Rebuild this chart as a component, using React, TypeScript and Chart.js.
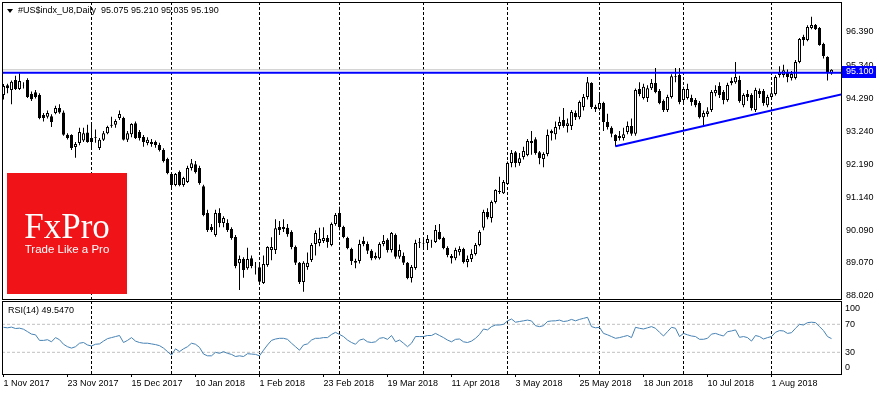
import React, { useEffect, useRef } from 'react';
import { Chart, registerables } from 'chart.js';
Chart.register(...registerables);

// ---------- DATA ----------
const symbolLabel = '#US$indx_U8,Daily';
const opens = [94.39,94.70,94.55,94.87,94.58,94.69,94.87,94.42,94.48,94.39,
93.76,93.70,93.72,93.82,93.98,93.84,93.13,93.12,92.74,92.87,
92.95,93.20,93.03,93.05,92.71,92.97,93.18,93.42,93.45,93.66,
93.66,92.97,93.15,93.50,93.22,93.06,92.87,92.90,92.90,92.81,
92.65,92.36,91.89,91.54,91.95,91.54,91.63,92.08,92.20,92.08,
91.50,90.65,90.21,89.95,90.65,90.33,90.33,90.14,89.89,89.06,
89.19,88.90,89.22,88.95,88.93,88.43,89.00,89.48,89.48,90.21,
90.21,90.18,90.05,89.57,89.07,88.46,88.94,89.16,89.67,89.70,
89.76,89.86,89.64,90.30,90.65,90.21,89.86,89.51,89.07,89.13,
89.76,89.67,89.45,89.22,89.22,89.67,89.80,89.48,89.95,89.26,
89.29,89.07,88.59,88.91,89.70,89.70,89.70,89.76,89.73,90.05,
89.86,89.54,89.29,89.22,89.41,89.51,89.10,89.19,89.35,89.64,
90.18,90.68,90.49,91.00,91.35,91.28,91.57,92.24,92.58,92.24,
92.43,92.49,92.87,92.99,92.58,92.36,92.52,93.25,93.15,93.41,
93.60,93.41,93.41,93.82,93.69,94.01,94.33,94.77,94.01,93.95,
94.14,93.54,93.35,93.12,93.03,93.03,93.22,93.41,93.16,94.58,
94.30,94.30,94.61,94.77,94.52,94.20,93.92,94.33,94.99,95.03,
94.23,94.30,94.30,94.23,94.14,93.69,93.79,93.92,94.45,94.68,
94.49,94.23,94.77,94.80,94.87,94.07,94.42,94.39,93.92,94.52,
94.52,94.07,94.33,94.42,95.03,95.03,95.12,94.93,94.93,95.44,
96.23,96.14,96.52,96.61,96.52,96.01,95.60,95.075];
const highs = [94.74,94.75,94.85,95.00,95.08,94.80,94.92,94.50,94.55,94.45,
93.82,93.90,93.78,94.05,94.10,93.90,93.18,93.15,92.90,93.35,
93.35,93.45,93.45,93.30,93.03,93.25,93.42,93.70,93.62,93.90,
93.70,93.25,93.50,93.55,93.28,93.12,93.05,93.00,92.95,92.88,
92.70,92.40,91.95,91.92,92.00,91.80,92.15,92.36,92.30,92.15,
91.55,90.75,90.30,90.75,90.80,90.55,90.45,90.20,89.95,89.30,
89.25,89.55,89.30,89.10,89.00,89.30,89.60,89.88,90.45,90.40,
90.45,90.30,90.10,89.62,89.10,89.12,89.40,89.70,90.10,90.18,
90.20,89.95,90.35,90.65,90.85,90.25,89.90,89.55,89.20,89.80,
89.90,89.75,89.50,89.40,89.72,89.95,89.85,90.05,90.00,89.65,
89.40,89.10,89.00,89.80,89.86,89.85,89.95,89.80,90.27,90.30,
89.90,89.60,89.35,89.55,89.60,89.55,89.30,89.50,89.70,90.10,
90.75,90.80,91.05,91.40,91.80,91.70,92.28,92.65,92.62,92.55,
92.75,93.00,93.25,93.05,92.62,92.58,93.30,93.30,93.55,93.70,
93.98,93.65,93.92,93.90,94.22,94.42,94.96,94.80,94.08,94.48,
94.18,93.80,93.40,93.15,93.25,93.35,93.55,93.65,94.60,94.80,
94.75,94.70,94.90,95.25,94.58,94.25,94.40,95.05,95.25,95.25,
94.65,94.75,94.40,94.30,94.20,93.90,94.00,94.55,94.70,94.80,
94.55,94.78,94.95,95.44,95.00,94.45,94.55,94.45,94.62,94.60,
94.58,94.40,94.55,95.02,95.30,95.35,95.20,95.15,95.50,96.20,
96.30,96.60,96.87,96.64,96.55,96.05,95.62,95.21];
const lows = [94.25,94.45,94.10,94.55,94.55,94.60,94.30,94.20,94.28,93.62,
93.55,93.65,93.38,93.78,93.80,93.10,92.98,92.65,92.40,92.80,
92.90,92.88,92.65,92.88,92.65,92.93,93.15,93.35,93.35,93.60,
92.95,92.90,93.05,93.00,92.95,92.75,92.80,92.75,92.72,92.60,
92.25,91.88,91.38,91.50,91.50,91.48,91.60,92.00,91.90,91.55,
90.55,90.05,90.05,89.90,90.20,90.20,90.05,89.80,88.90,88.21,
88.60,88.85,88.90,88.70,88.40,88.40,88.95,89.15,89.35,89.95,
90.05,89.90,89.50,89.00,88.40,88.15,88.85,89.10,89.30,89.60,
89.70,89.55,89.60,90.25,90.10,89.85,89.50,89.00,88.90,89.05,
89.60,89.35,89.15,89.18,89.18,89.60,89.40,89.40,89.20,89.20,
89.00,88.55,88.45,88.85,89.54,89.55,89.48,89.55,89.70,89.80,
89.50,89.25,89.05,89.15,89.30,89.05,88.93,89.10,89.30,89.60,
90.10,90.45,90.35,90.95,91.25,91.25,91.55,92.10,92.10,92.15,
92.35,92.45,92.50,92.50,92.20,92.10,92.45,92.95,92.98,93.30,
93.35,93.20,93.28,93.60,93.62,93.90,94.25,93.95,93.85,93.90,
93.25,93.30,93.05,92.76,92.95,92.95,93.15,93.10,93.10,94.35,
94.25,94.17,94.55,94.45,94.10,93.85,93.85,94.28,94.80,94.10,
94.15,94.25,94.05,94.00,93.65,93.44,93.70,93.85,94.35,94.30,
94.10,94.18,94.70,94.75,94.15,94.00,94.20,93.90,93.85,94.30,
94.05,94.00,94.25,94.38,94.95,94.95,94.80,94.85,94.88,95.40,
95.95,96.10,96.48,96.45,95.95,95.55,94.85,95.035];
const closes = [94.68,94.61,94.81,94.58,94.84,94.70,94.33,94.26,94.33,93.66,
93.66,93.82,93.54,93.98,93.84,93.13,93.03,92.71,92.84,93.22,
93.18,92.90,92.90,93.03,92.97,93.18,93.38,93.45,93.57,93.79,
92.97,93.18,93.47,93.03,93.03,92.90,92.97,92.84,92.81,92.65,
92.30,91.92,91.54,91.89,91.54,91.76,92.08,92.23,91.95,91.60,
90.59,90.11,90.11,90.65,90.33,90.49,90.11,89.86,88.97,89.19,
88.84,89.19,88.97,88.93,88.47,89.03,89.57,89.57,90.17,90.11,
90.14,89.98,89.57,89.07,88.46,89.07,89.07,89.64,90.02,89.83,
89.86,89.73,90.30,90.59,90.21,89.89,89.54,89.13,89.13,89.67,
89.67,89.45,89.22,89.29,89.67,89.76,89.48,90.02,89.26,89.48,
89.07,88.59,88.94,89.70,89.72,89.68,89.83,89.77,90.11,89.83,
89.54,89.32,89.22,89.48,89.51,89.10,89.19,89.35,89.64,90.05,
90.68,90.52,91.00,91.38,91.32,91.63,92.24,92.55,92.24,92.39,
92.62,92.93,92.93,92.55,92.39,92.52,93.12,93.18,93.38,93.54,
93.41,93.50,93.85,93.69,94.17,94.33,94.80,94.01,93.95,94.14,
93.54,93.38,93.16,92.93,93.09,93.15,93.41,93.16,94.55,94.42,
94.65,94.61,94.77,94.49,94.14,93.92,94.33,94.99,94.96,94.17,
94.58,94.58,94.17,94.07,93.69,93.82,93.88,94.49,94.55,94.39,
94.23,94.71,94.84,94.96,94.20,94.39,94.33,93.98,94.55,94.42,
94.14,94.33,94.45,94.96,95.12,95.18,94.96,95.06,95.44,96.17,
96.14,96.55,96.61,96.48,95.98,95.63,95.12,95.19];
const rsiValues = [65.7,65,66,64,64.5,63,59.5,56,55,47,
47,48,45,51,48,41.5,38,36,38,43,
44,40.5,39,41.5,42,46,49.5,51,52.5,54,
44,47,51,46,44,43,43,42,41,39.5,
36,31,26,35,31,35,38,43,41.5,37,
27.5,25,25,30,28.5,31,28.5,27,24,25,
24,28,27.5,27,25,33,40.5,47,49,50,
50,48.5,43,38,33,40.5,42,47.5,50,50,
51,51,55.5,58.5,55.5,52.5,47.5,44,41.5,47.5,
49,45,44,45,50,51,48.5,54,45,47.5,
43,38,43,52.5,52.5,52.5,54,54,57,54,
51,47.5,45,48.5,49,45,44,46,50,55.5,
63.3,62,66.7,69,69,70,74.8,77.6,73,74,
75,76,74.8,68,66.7,68,74,74.8,75,76,
74,74.8,77,75,77,78.5,80,66.7,65,65.7,
57,55,52.5,50,51,52.5,54,51,65.7,64.3,
63.3,65,66.7,64.3,58.6,53.3,59.5,65.7,64.3,52.5,
57,55,53.3,52.5,48.6,48.6,50,56,57,55,
53.3,59.5,60.5,62,51.4,52.5,51,46,54,52.5,
49,51,52.5,58.6,61,60.5,57,58,64.3,70,
69,72.4,73,72.4,66.7,61,52.5,49.547];
const priceTicks = [96.39, 95.34, 94.29, 93.24, 92.19, 91.14, 90.09, 89.07, 88.02];
const rsiTicks = [100, 70, 30, 0];
const rsiLevels = [70, 30];
const dateLabels = ['1 Nov 2017','23 Nov 2017','15 Dec 2017','10 Jan 2018','1 Feb 2018','23 Feb 2018','19 Mar 2018','11 Apr 2018','3 May 2018','25 May 2018','18 Jun 2018','10 Jul 2018','1 Aug 2018'];
const dateLabelBars = [0,16,32,48,64,80,96,112,128,144,160,176,192];
const monthStartBars = [22,42,64,84,105,126,149,170,192];
const supportLevel = 95.1;
const trendBars = [153, 209.4];
const trendPrices = [92.77, 94.41];

// ---------- LAYOUT ----------
const xMin = -0.375;
const xMax = 209.375;
const priceMin = 87.924;
const priceMax = 97.341;
const rsiMin = -1;
const rsiMax = 103.3;
const FONT = '"Liberation Sans", Arial, sans-serif';
const last = closes.length - 1;

const monthGridPlugin = {
  id: 'monthGrid',
  beforeDatasetsDraw(chart: any) {
    const { ctx, chartArea, scales } = chart;
    ctx.save();
    ctx.strokeStyle = '#000';
    ctx.lineWidth = 1;
    ctx.setLineDash([3, 2]);
    for (const b of monthStartBars) {
      const x = Math.floor(scales.x.getPixelForValue(b)) + 0.5;
      ctx.beginPath();
      ctx.moveTo(x, chartArea.top);
      ctx.lineTo(x, chartArea.bottom);
      ctx.stroke();
    }
    ctx.restore();
  },
};

const framePlugin = {
  id: 'frame',
  afterDatasetsDraw(chart: any) {
    const { ctx, chartArea } = chart;
    ctx.save();
    ctx.strokeStyle = '#000';
    ctx.lineWidth = 1;
    ctx.strokeRect(chartArea.left + 0.5, chartArea.top + 0.5, chartArea.right - chartArea.left, chartArea.bottom - chartArea.top);
    ctx.restore();
  },
};

const priceTagPlugin = {
  id: 'priceTag',
  afterDraw(chart: any) {
    const { ctx, chartArea, scales } = chart;
    const y = Math.round(scales.y.getPixelForValue(supportLevel));
    ctx.save();
    ctx.fillStyle = '#0000ff';
    ctx.fillRect(chartArea.right + 1, y - 7, 34, 12);
    ctx.fillStyle = '#ffffff';
    ctx.font = `9px ${FONT}`;
    ctx.textBaseline = 'middle';
    ctx.textAlign = 'left';
    ctx.fillText(supportLevel.toFixed(3), chartArea.right + 5, y - 1);
    ctx.restore();
  },
};

const rsiLabelsPlugin = {
  id: 'rsiLabels',
  afterDraw(chart: any) {
    const { ctx, chartArea, scales } = chart;
    ctx.save();
    ctx.fillStyle = '#000';
    ctx.font = `9px ${FONT}`;
    ctx.textAlign = 'left';
    for (const v of rsiTicks) {
      const y = scales.y.getPixelForValue(v);
      ctx.textBaseline = v === 100 ? 'top' : v === 0 ? 'bottom' : 'middle';
      ctx.fillText(String(v), chartArea.right + 4, v === 100 ? y + 1 : v === 0 ? y - 1 : y);
    }
    ctx.restore();
  },
};

function mainConfig(): any {
  const wickData = lows.map((l, i) => ({ x: i, y: [l, highs[i]] }));
  const bodyData = opens.map((o, i) => ({ x: i, y: [o, closes[i]] }));
  const bodyColors = opens.map((o, i) => (closes[i] >= o ? '#ffffff' : '#000000'));
  return {
    type: 'bar',
    data: {
      datasets: [
        {
          type: 'line',
          data: [{ x: xMin, y: closes[last] }, { x: xMax, y: closes[last] }],
          borderColor: '#c0c0c0',
          borderWidth: 1,
          pointRadius: 0,
          order: 6,
        },
        {
          type: 'bar',
          data: wickData,
          backgroundColor: '#000000',
          barThickness: 1,
          grouped: false,
          inflateAmount: 0,
          order: 5,
        },
        {
          type: 'bar',
          data: bodyData,
          backgroundColor: bodyColors,
          borderColor: '#000000',
          borderWidth: 1,
          borderSkipped: false,
          barThickness: 3,
          grouped: false,
          inflateAmount: 0,
          order: 4,
        },
        {
          type: 'line',
          data: [{ x: xMin, y: supportLevel }, { x: xMax, y: supportLevel }],
          borderColor: '#0000ff',
          borderWidth: 2,
          pointRadius: 0,
          order: 1,
        },
        {
          type: 'line',
          data: trendBars.map((b, i) => ({ x: b, y: trendPrices[i] })),
          borderColor: '#0000ff',
          borderWidth: 2,
          pointRadius: 0,
          order: 1,
        },
      ],
    },
    options: {
      responsive: false,
      maintainAspectRatio: false,
      animation: false,
      events: [],
      layout: { padding: { left: 2, top: 2, right: 0, bottom: 1 } },
      plugins: { legend: { display: false }, tooltip: { enabled: false } },
      scales: {
        x: { type: 'linear', min: xMin, max: xMax, display: false, offset: false },
        y: {
          position: 'right',
          min: priceMin,
          max: priceMax,
          afterBuildTicks: (s: any) => { s.ticks = priceTicks.map((v) => ({ value: v })); },
          ticks: {
            callback: (v: any) => Number(v).toFixed(3),
            font: { family: FONT, size: 9 },
            color: '#000',
            padding: 5,
            autoSkip: false,
          },
          grid: { drawOnChartArea: false, drawTicks: false },
          border: { display: false },
          afterFit: (s: any) => { s.width = 39; s.paddingTop = 0; s.paddingBottom = 0; },
        },
      },
    },
    plugins: [monthGridPlugin, framePlugin, priceTagPlugin],
  };
}

function rsiConfig(): any {
  return {
    type: 'line',
    data: {
      datasets: [
        ...rsiLevels.map((lv) => ({
          data: [{ x: xMin, y: lv }, { x: xMax, y: lv }],
          borderColor: '#c0c0c0',
          borderWidth: 1,
          borderDash: [3, 2],
          pointRadius: 0,
          order: 3,
        })),
        {
          data: rsiValues.map((v, i) => ({ x: i, y: v })),
          borderColor: '#4682b4',
          borderWidth: 1,
          pointRadius: 0,
          tension: 0,
          order: 1,
        },
      ],
    },
    options: {
      responsive: false,
      maintainAspectRatio: false,
      animation: false,
      events: [],
      layout: { padding: { left: 2, top: 1, right: 0, bottom: 0 } },
      plugins: { legend: { display: false }, tooltip: { enabled: false } },
      scales: {
        x: {
          type: 'linear',
          min: xMin,
          max: xMax,
          offset: false,
          afterBuildTicks: (s: any) => { s.ticks = dateLabelBars.map((v) => ({ value: v })); },
          ticks: {
            autoSkip: false,
            maxRotation: 0,
            minRotation: 0,
            align: 'start',
            padding: 1,
            font: { family: FONT, size: 9 },
            color: '#000',
            callback: (v: any) => {
              const k = dateLabelBars.indexOf(Number(v));
              return k >= 0 ? dateLabels[k] : '';
            },
          },
          grid: { drawOnChartArea: false, drawTicks: true, tickLength: 3, color: '#000' },
          border: { display: false },
          afterFit: (s: any) => { s.height = 21; s.paddingLeft = 0; s.paddingRight = 0; },
        },
        y: {
          position: 'right',
          min: rsiMin,
          max: rsiMax,
          afterBuildTicks: (s: any) => { s.ticks = rsiTicks.map((v) => ({ value: v })); },
          ticks: { display: false },
          grid: { drawOnChartArea: false, drawTicks: false },
          border: { display: false },
          afterFit: (s: any) => { s.width = 39; s.paddingTop = 0; s.paddingBottom = 0; },
        },
      },
    },
    plugins: [monthGridPlugin, framePlugin, rsiLabelsPlugin],
  };
}

export default function App() {
  const mainRef = useRef<HTMLCanvasElement>(null);
  const rsiRef = useRef<HTMLCanvasElement>(null);

  useEffect(() => {
    const main = new Chart(mainRef.current as HTMLCanvasElement, mainConfig());
    const rsi = new Chart(rsiRef.current as HTMLCanvasElement, rsiConfig());
    return () => {
      main.destroy();
      rsi.destroy();
    };
  }, []);

  const header = `${symbolLabel}  ${[opens[last], highs[last], lows[last], closes[last]].map((v) => v.toFixed(3)).join(' ')}`;
  const rsiHeader = `RSI(14) ${rsiValues[last].toFixed(4)}`;
  const textStyle: React.CSSProperties = {
    position: 'absolute',
    fontFamily: FONT,
    fontSize: 9,
    lineHeight: '11px',
    color: '#000',
    whiteSpace: 'pre',
  };

  return (
    <div style={{ position: 'absolute', left: 0, top: 0, width: 880, height: 395, background: '#fff', overflow: 'hidden' }}>
      <canvas ref={mainRef} width={880} height={300} style={{ position: 'absolute', left: 0, top: 0 }} />
      <canvas ref={rsiRef} width={880} height={95} style={{ position: 'absolute', left: 0, top: 300 }} />
      <div style={{ position: 'absolute', left: 7, top: 9, width: 0, height: 0, borderLeft: '3.5px solid transparent', borderRight: '3.5px solid transparent', borderTop: '4px solid #000' }} />
      <div style={{ ...textStyle, left: 18, top: 5 }}>{header}</div>
      <div style={{ ...textStyle, left: 8, top: 305 }}>{rsiHeader}</div>
      <div style={{ position: 'absolute', left: 7, top: 173, width: 120, height: 121, background: '#f01418' }}>
        <div style={{ position: 'absolute', left: 0, width: 120, top: 36, textAlign: 'center', fontFamily: '"Liberation Serif", "Times New Roman", serif', fontSize: 35, lineHeight: '35px', color: '#fff' }}>FxPro</div>
        <div style={{ position: 'absolute', left: 0, width: 120, top: 70, textAlign: 'center', fontFamily: FONT, fontSize: 11.5, lineHeight: '12px', color: '#fff' }}>Trade Like a Pro</div>
      </div>
    </div>
  );
}
